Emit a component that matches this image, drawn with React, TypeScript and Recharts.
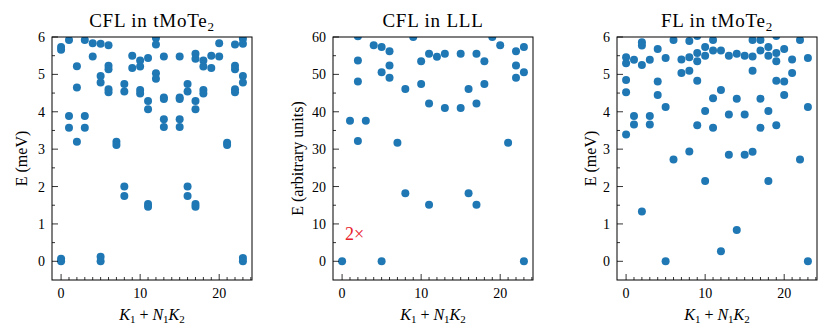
import React from 'react';
import { ScatterChart, Scatter, XAxis, YAxis } from 'recharts';

// energy levels at each momentum index K1 + N1 K2 = 0..23
const CFL_TMOTE2: number[][] = [
  [5.73, 5.66, 0.07, 0],
  [5.92, 3.89, 3.57],
  [5.22, 4.65, 3.2],
  [5.92, 3.89, 3.57],
  [5.83, 5.48],
  [5.82, 4.96, 4.78, 0.12, 0],
  [5.78, 5.23, 5.14, 4.6, 4.52],
  [3.2, 3.11],
  [4.74, 4.54, 2.0, 1.75],
  [5.5, 5.17],
  [5.37, 5.21, 4.58, 4.49],
  [5.44, 4.29, 4.07, 1.53, 1.46],
  [5.97, 5.8, 5.03, 4.88],
  [5.48, 4.38, 4.34, 3.8, 3.59],
  [],
  [5.48, 4.38, 4.34, 3.8, 3.59],
  [4.74, 4.54, 2.0, 1.75],
  [5.55, 5.42, 4.29, 4.07, 1.53, 1.46],
  [5.37, 5.21, 4.58, 4.49],
  [5.5, 5.17],
  [5.83, 5.48],
  [3.17, 3.11],
  [5.8, 5.23, 5.14, 4.6, 4.52],
  [5.95, 5.82, 4.96, 4.78, 0.09, 0],
];

const CFL_LLL: number[][] = [
  [0],
  [37.6],
  [60.2, 53.7, 48.1, 32.2],
  [37.6],
  [57.8],
  [57.3, 50.6, 0],
  [56.2, 52.4, 49.1],
  [31.7],
  [46.1, 18.2],
  [60.0],
  [53.5, 47.4],
  [55.5, 42.2, 15.1],
  [54.7],
  [55.5, 41.0],
  [],
  [55.5, 41.0],
  [46.1, 18.2],
  [55.5, 42.2, 15.1],
  [53.5, 47.4],
  [60.0],
  [57.8],
  [31.7],
  [56.2, 52.4, 49.1],
  [57.3, 50.6, 0],
];

const FL_TMOTE2: number[][] = [
  [5.46, 5.3, 4.85, 4.52, 3.39],
  [5.39, 3.89, 3.66],
  [5.86, 5.77, 5.25, 1.33],
  [5.39, 3.89, 3.66],
  [5.68, 4.81, 4.45],
  [5.44, 4.13, 0],
  [5.92, 2.72],
  [5.4, 5.04],
  [5.89, 5.46, 5.1, 2.94],
  [6.03, 5.57, 5.35, 4.83, 3.64],
  [5.73, 5.5, 4.02, 2.15],
  [5.92, 5.64, 4.36, 3.57],
  [5.64, 4.58, 0.27],
  [5.5, 3.93, 2.85],
  [5.55, 4.35, 0.84],
  [5.5, 3.93, 2.85],
  [5.92, 5.48, 5.1, 2.93],
  [5.92, 5.64, 4.35, 3.57],
  [5.73, 5.5, 4.02, 2.15],
  [6.03, 5.57, 5.35, 4.83, 3.64],
  [5.68, 4.81, 4.45],
  [5.4, 5.04],
  [5.92, 2.72],
  [5.44, 4.13, 0],
];

const X_TICKS = [0, 1, 2, 3, 4, 5, 6, 7, 8, 9, 10, 11, 12, 13, 14, 15, 16, 17, 18, 19, 20, 21, 22, 23, 24];
const X_MAJOR = [0, 10, 20];
const MEV_TICKS = [0, 0.5, 1, 1.5, 2, 2.5, 3, 3.5, 4, 4.5, 5, 5.5, 6];
const MEV_MAJOR = [0, 1, 2, 3, 4, 5, 6];
const LLL_TICKS = [0, 5, 10, 15, 20, 25, 30, 35, 40, 45, 50, 55, 60];
const LLL_MAJOR = [0, 10, 20, 30, 40, 50, 60];

const TOP = 37;
const BOTTOM = 280;
const PW = 200;
const H = 336;
const FONT = '"Liberation Serif", "Times New Roman", serif';
const BLUE = '#1f77b4';

const toPoints = (levels: number[][]) =>
  levels.flatMap((row, k) => row.map((e) => ({ k, e })));

const panels = [
  { title: 'CFL in tMoTe', sub: '2', yLabel: 'E (meV)', levels: CFL_TMOTE2, domain: [-0.5, 6], ticks: MEV_TICKS, major: MEV_MAJOR, left: 52, labelX: 21 },
  { title: 'CFL in LLL', sub: '', yLabel: 'E (arbitrary units)', levels: CFL_LLL, domain: [-5, 60], ticks: LLL_TICKS, major: LLL_MAJOR, left: 333, labelX: 297 },
  { title: 'FL in tMoTe', sub: '2', yLabel: 'E (meV)', levels: FL_TMOTE2, domain: [-0.5, 6], ticks: MEV_TICKS, major: MEV_MAJOR, left: 617, labelX: 590 },
];

const XTick = (props: any) => {
  const { x, payload } = props;
  const major = X_MAJOR.includes(payload.value);
  return (
    <g>
      <line x1={x} x2={x} y1={BOTTOM} y2={BOTTOM - (major ? 6 : 3)} stroke="#000" strokeWidth={0.8} />
      {major && (
        <text x={x} y={BOTTOM + 18} textAnchor="middle" fontFamily={FONT} fontSize={14} fill="#000">
          {payload.value}
        </text>
      )}
    </g>
  );
};

const makeYTick = (left: number, major: number[]) => (props: any) => {
  const { y, payload } = props;
  const isMajor = major.includes(payload.value);
  return (
    <g>
      <line x1={left} x2={left + (isMajor ? 6 : 3)} y1={y} y2={y} stroke="#000" strokeWidth={0.8} />
      {isMajor && (
        <text x={left - 7} y={y + 5} textAnchor="end" fontFamily={FONT} fontSize={14} fill="#000">
          {payload.value}
        </text>
      )}
    </g>
  );
};

export default function App() {
  return (
    <div style={{ position: 'absolute', left: 0, top: 0, width: 831, height: H, overflow: 'hidden', background: '#fff' }}>
      {panels.map((p) => (
        <div key={p.title} style={{ position: 'absolute', left: p.left - 52, top: 0 }}>
          <ScatterChart width={262} height={H} margin={{ top: TOP, right: 10, bottom: 0, left: 0 }}>
            <XAxis
              type="number"
              dataKey="k"
              domain={[-1.15, 24.15]}
              ticks={X_TICKS}
              interval={0}
              allowDataOverflow
              height={H - BOTTOM}
              axisLine={false}
              tickLine={false}
              tick={XTick}
            />
            <YAxis
              type="number"
              dataKey="e"
              domain={p.domain}
              ticks={p.ticks}
              interval={0}
              allowDataOverflow
              width={52}
              axisLine={false}
              tickLine={false}
              tick={makeYTick(52, p.major)}
            />
            <Scatter
              data={toPoints(p.levels)}
              isAnimationActive={false}
              shape={(s: any) => <circle cx={s.cx} cy={s.cy} r={4} fill={BLUE} />}
            />
          </ScatterChart>
        </div>
      ))}
      <svg width={831} height={H} style={{ position: 'absolute', left: 0, top: 0, pointerEvents: 'none' }}>
        {panels.map((p) => {
          const cx = p.left + PW / 2;
          const cy = (TOP + BOTTOM) / 2;
          return (
            <g key={p.title} fontFamily={FONT} fill="#000">
              <rect x={p.left} y={TOP} width={PW} height={BOTTOM - TOP} fill="none" stroke="#000" strokeWidth={1} />
              <text x={cx} y={27} textAnchor="middle" fontSize={19} letterSpacing={0.8}>
                {p.title}
                {p.sub && <tspan dy={4} fontSize={13}>{p.sub}</tspan>}
              </text>
              <text
                x={p.labelX}
                y={cy}
                textAnchor="middle"
                dominantBaseline="central"
                fontSize={16}
                transform={`rotate(-90, ${p.labelX}, ${cy})`}
              >
                {p.yLabel}
              </text>
              <text x={cx} y={320} textAnchor="middle" fontSize={16}>
                <tspan fontStyle="italic">K</tspan>
                <tspan dy={3} fontSize={11}>1</tspan>
                <tspan dy={-3}> + </tspan>
                <tspan fontStyle="italic">N</tspan>
                <tspan dy={3} fontSize={11}>1</tspan>
                <tspan dy={-3} fontStyle="italic">K</tspan>
                <tspan dy={3} fontSize={11}>2</tspan>
              </text>
            </g>
          );
        })}
        <text x={345} y={240} fontFamily={FONT} fontSize={18} fill="#e8202a">2×</text>
      </svg>
    </div>
  );
}
